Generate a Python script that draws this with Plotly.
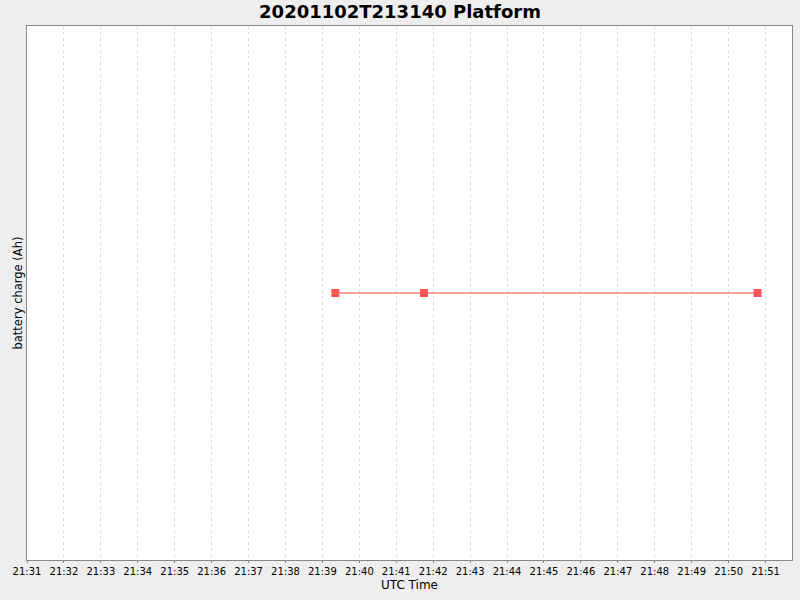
import plotly.graph_objs as go

# battery charge samples (UTC)
times = ["2020-11-02 21:39:21", "2020-11-02 21:41:45", "2020-11-02 21:50:47"]
charge = [0.0, 0.0, 0.0]

x_range = ["2020-11-02 21:31:00", "2020-11-02 21:51:43"]
y_range = [-1.0, 1.0]

trace = go.Scatter(
    x=times, y=charge, mode="lines+markers",
    line=dict(color="#FF4444", width=1),
    marker=dict(symbol="square", size=8, color="#FF5555"),
    showlegend=False,
)

layout = go.Layout(
    width=800, height=600,
    title=dict(text="<b>20201102T213140 Platform</b>", x=0.5, xanchor="center",
               y=0.98, yanchor="middle", font=dict(family="DejaVu Sans", size=18, color="black")),
    paper_bgcolor="#EEEEEE", plot_bgcolor="white",
    margin=dict(l=27, r=8, t=26, b=40),
    font=dict(family="DejaVu Sans", size=11, color="black"),
    xaxis=dict(
        type="date", range=x_range, tickformat="%H:%M", dtick=60000,
        tick0="2020-11-02 21:31:00",
        showgrid=True, gridcolor="#D8D8D8", griddash="3px,3px", gridwidth=1,
        showline=True, linecolor="#888888", mirror=True,
        ticks="outside", ticklen=2, tickcolor="#888888",
        tickfont=dict(size=10),
        title=dict(text="UTC Time", font=dict(size=12), standoff=4),
        zeroline=False, automargin=False,
    ),
    yaxis=dict(
        range=y_range, showticklabels=False, showgrid=False, zeroline=False,
        showline=True, linecolor="#888888", mirror=True,
        title=dict(text="battery charge (Ah)", font=dict(size=11.5), standoff=0),
        automargin=False,
    ),
)

fig = go.Figure(data=[trace], layout=layout)
fig.write_html("out.html", config=dict(displayModeBar=False),
               post_script="document.body.style.margin='0';")
